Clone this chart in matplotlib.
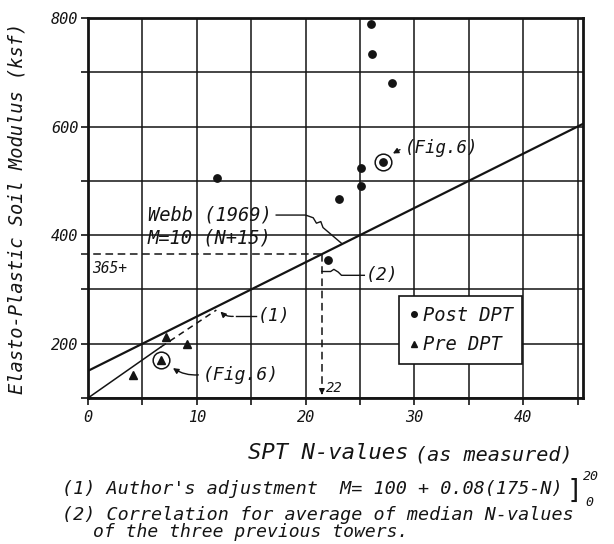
import numpy as np
import matplotlib
matplotlib.use('Agg')
import matplotlib.pyplot as plt
from matplotlib.lines import Line2D

# Data
post_dpt_n = [11.9, 22.1, 23.1, 25.1, 25.1, 26.0, 26.1, 27.9, 27.1]
post_dpt_m = [505, 355, 466, 490, 523, 789, 733, 681, 534]
pre_dpt_n = [4.1, 7.2, 9.1, 6.7]
pre_dpt_m = [143, 212, 199, 170]

# points that are circled and tied to "(Fig. 6)"
fig6_n = [27.1, 6.7]
fig6_m = [534, 170]

# Webb (1969) M = 10 (N + 15)
webb_n = [0, 45.5]
webb_m = [150, 605]

# (1) author's adjustment: solid part, then dashed part
author_n = [0, 6.7]
author_m = [100, 194]
author_dash_n = [6.7, 11.8]
author_dash_m = [194, 262]

# (2) correlation for median N: 22 -> 365
corr_n = 21.5
corr_m = 365

x_ticks = list(range(0, 46, 5))
x_labels = ['0', '', '10', '', '20', '', '30', '', '40', '']
y_ticks = list(range(100, 801, 100))
y_labels = ['', '200', '', '400', '', '600', '', '800']

INK = '#141414'
W, H = 614, 544

# stencil-like lettering: a monospaced face in oblique comes closest
plt.rcParams['font.family'] = 'DejaVu Sans Mono'
plt.rcParams['font.style'] = 'italic'

fig = plt.figure(figsize=(W / 100, H / 100), dpi=100)
ax = fig.add_axes([88 / W, 1 - 398 / H, (583 - 88) / W, (398 - 18) / H])


def fig_text(px, py, s, style='italic', **kw):
    # place text using pixel coords measured from the top-left
    fig.text(px / W, 1 - py / H, s, color=INK, style=style, **kw)


ax.set_xlim(0, 45.5)
ax.set_ylim(100, 800)
ax.set_xticks(x_ticks)
ax.set_xticklabels(x_labels)
ax.set_yticks(y_ticks)
ax.set_yticklabels(y_labels)
ax.grid(True, color=INK, linewidth=1.1)
ax.set_axisbelow(True)
for side in ax.spines.values():
    side.set_linewidth(2.0)
    side.set_color(INK)
ax.tick_params(axis='both', direction='out', length=5, width=1.2, color=INK,
               labelsize=11, labelcolor=INK)
ax.tick_params(axis='x', pad=4)
ax.tick_params(axis='y', pad=2)

ax.set_ylabel('Elasto-Plastic Soil Modulus (ksf)', fontsize=13.5, color=INK)
ax.yaxis.set_label_coords(-0.125, 0.5)

# correlation lines
ax.plot(webb_n, webb_m, color=INK, linewidth=1.6, zorder=3)
ax.plot(author_n, author_m, color=INK, linewidth=1.1, zorder=3)
ax.plot(author_dash_n, author_dash_m, color=INK, linewidth=1.1,
        linestyle=(0, (4, 3)), zorder=3)

# markers
ax.plot(post_dpt_n, post_dpt_m, 'o', color=INK, markersize=5.3, zorder=4)
ax.plot(pre_dpt_n, pre_dpt_m, '^', color=INK, markersize=5.5, zorder=4)
ax.plot(fig6_n, fig6_m, 'o', markerfacecolor='none', markeredgecolor=INK,
        markersize=12, markeredgewidth=1.1, zorder=4)

# (2) dashed guides with arrow to the N axis
ax.plot([-0.6, corr_n], [corr_m, corr_m], color=INK, linewidth=1.1,
        linestyle=(0, (5, 3)), clip_on=False, zorder=3)
ax.plot([corr_n, corr_n], [corr_m, 112], color=INK, linewidth=1.1,
        linestyle=(0, (5, 3)), zorder=3)
ax.annotate('', xy=(corr_n, 101), xytext=(corr_n, 114),
            arrowprops=dict(arrowstyle='-|>', color=INK, lw=1.0,
                            mutation_scale=8))
ax.text(0.4, 339, '365+', fontsize=10.5, color=INK, va='center')
ax.text(21.9, 118, '22', fontsize=10, color=INK, va='center')

# leader: Webb (1969)
ax.plot([17.3, 20.0, 20.7, 21.0, 21.4, 21.6, 23.3],
        [437, 437, 432, 422, 425, 414, 385],
        color=INK, linewidth=1.0, zorder=3)
ax.text(5.5, 437, 'Webb (1969)', fontsize=13.5, color=INK, va='center')
ax.text(5.5, 394, 'M=10 (N+15)', fontsize=13.5, color=INK, va='center')

# leader: (2)
ax.plot([corr_n, 22.3, 22.6, 23.0, 23.3, 25.4],
        [333, 333, 337, 332, 326, 326], color=INK, linewidth=1.0, zorder=3)
ax.text(25.5, 326, '(2)', fontsize=13, color=INK, va='center')

# leader: (1)
ax.annotate('', xy=(12.0, 263), xytext=(13.6, 251),
            arrowprops=dict(arrowstyle='-|>', color=INK, lw=1.0,
                            mutation_scale=8,
                            connectionstyle='arc3,rad=-0.3'))
ax.plot([13.6, 15.4], [251, 251], color=INK, linewidth=1.0)
ax.text(15.6, 251, '(1)', fontsize=13, color=INK, va='center')

# leaders: (Fig. 6)
ax.annotate('', xy=(7.6, 158), xytext=(10.4, 143),
            arrowprops=dict(arrowstyle='-|>', color=INK, lw=1.0,
                            mutation_scale=8,
                            connectionstyle='arc3,rad=-0.2'))
ax.text(10.5, 143, '(Fig.6)', fontsize=13, color=INK, va='center')
ax.annotate('', xy=(27.8, 548), xytext=(28.9, 560),
            arrowprops=dict(arrowstyle='-|>', color=INK, lw=1.0,
                            mutation_scale=8))
ax.text(29.1, 560, '(Fig.6)', fontsize=12.5, color=INK, va='center')

# legend
handles = [
    Line2D([], [], linestyle='none', marker='o', color=INK, markersize=4),
    Line2D([], [], linestyle='none', marker='^', color=INK, markersize=4.5),
]
leg = ax.legend(handles, ['Post DPT', 'Pre DPT'], loc='upper left',
                bbox_to_anchor=(28.6, 287), bbox_transform=ax.transData,
                fancybox=False, framealpha=1, edgecolor=INK,
                prop=dict(size=13.5, style='italic'), handlelength=0.6,
                handletextpad=0.15, borderpad=0.5, labelspacing=0.55,
                borderaxespad=0)
leg.get_frame().set_linewidth(1.2)
for t in leg.get_texts():
    t.set_color(INK)

# axis title and notes below the chart
fig_text(248, 453, 'SPT N-values', fontsize=16, va='center')
fig_text(415, 455, '(as measured)', fontsize=14.5, va='center')
fig_text(62, 489, "(1) Author's adjustment  M= 100 + 0.08(175-N)",
         fontsize=13.3, va='center')
fig_text(567, 491, ']', fontsize=19, va='center', style='normal')
fig_text(583, 476, '20', fontsize=9.5, va='center')
fig_text(585, 503, '0', fontsize=9.5, va='center')
fig_text(62, 515, '(2) Correlation for average of median N-values',
         fontsize=13.2, va='center')
fig_text(93, 532, 'of the three previous towers.', fontsize=13, va='center')

fig.savefig('out.png', dpi=100, facecolor='white')
